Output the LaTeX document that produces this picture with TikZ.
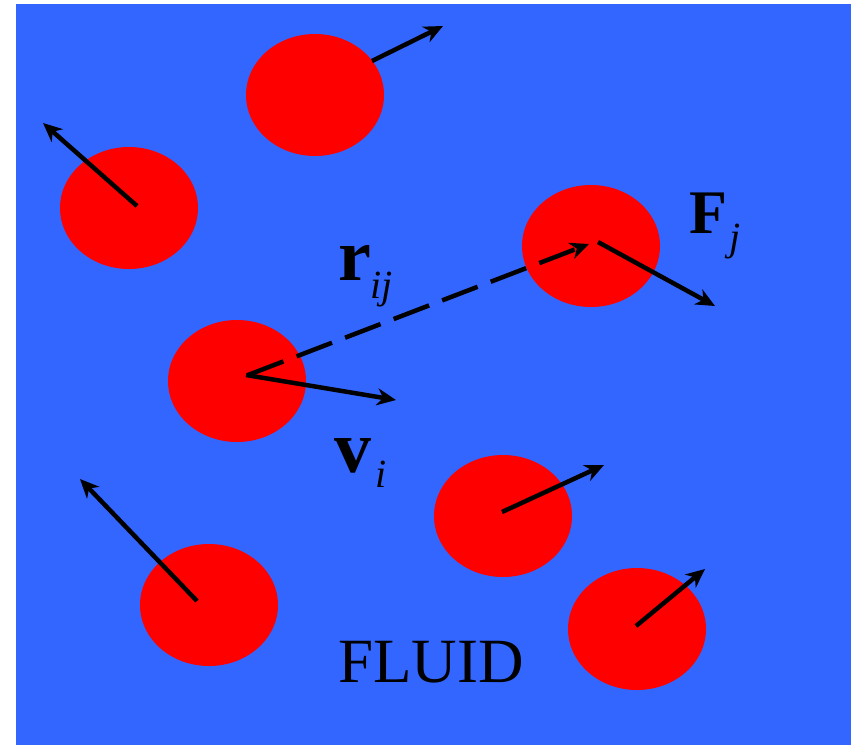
\documentclass[tikz,border=0pt]{standalone}
\usepackage{fontspec}
\setmainfont{Liberation Serif}
\usetikzlibrary{shapes.geometric,arrows.meta}
\definecolor{fluid}{HTML}{3366FF}
\begin{document}
\begin{tikzpicture}[x=1pt,y=-1pt,
  particle/.style={ellipse,fill=red,minimum width=138pt,minimum height=122pt,inner sep=0pt},
  vec/.style={line width=4.5pt,-{Stealth[length=19pt,width=17pt,inset=6pt]}},
  lbl/.style={inner sep=0pt,anchor=base west}]
\useasboundingbox (0,0) rectangle (851,745);
\fill[fluid] (16,4) rectangle (851,745);
\node[particle] (p1) at (315,95) {};
\node[particle] (p2) at (129,208) {};
\node[particle] (p3) at (591,246) {};
\node[particle] (p4) at (237,381) {};
\node[particle] (p5) at (503,516) {};
\node[particle] (p6) at (209,605) {};
\node[particle] (p7) at (637,629) {};
\coordinate (s1) at (372,61);   \coordinate (e1) at (443,26);
\coordinate (s2) at (137,206);  \coordinate (e2) at (43,123);
\coordinate (s3) at (248,375);  \coordinate (e3) at (589,244);
\coordinate (s4) at (598,242);  \coordinate (e4) at (715,306);
\coordinate (s5) at (246,375);  \coordinate (e5) at (396,400);
\coordinate (s6) at (502,512);  \coordinate (e6) at (604,465);
\coordinate (s7) at (197,601);  \coordinate (e7) at (80,479);
\coordinate (s8) at (636,626);  \coordinate (e8) at (705,569);
\draw[vec] (s1) -- (e1);
\draw[vec] (s2) -- (e2);
\draw[vec,dash pattern=on 38pt off 14pt] (s3) -- (e3);
\draw[vec] (s4) -- (e4);
\draw[vec] (s5) -- (e5);
\draw[vec] (s6) -- (e6);
\draw[vec] (s7) -- (e7);
\draw[vec] (s8) -- (e8);
\node[lbl] (r) at (338,280) {\fontsize{74}{74}\selectfont\bfseries r};
\node[lbl] (rs) at (370,298) {\fontsize{40}{40}\selectfont\itshape ij};
\node[lbl] (v) at (334,472) {\fontsize{74}{74}\selectfont\bfseries v};
\node[lbl] (vs) at (375,487) {\fontsize{40}{40}\selectfont\itshape i};
\node[lbl] (F) at (689,233) {\fontsize{62}{62}\selectfont\bfseries F};
\node[lbl] (Fs) at (729,250) {\fontsize{40}{40}\selectfont\itshape j};
\node[lbl] (fl) at (338,682) {\fontsize{63}{63}\selectfont FLUID};
\end{tikzpicture}
\end{document}
